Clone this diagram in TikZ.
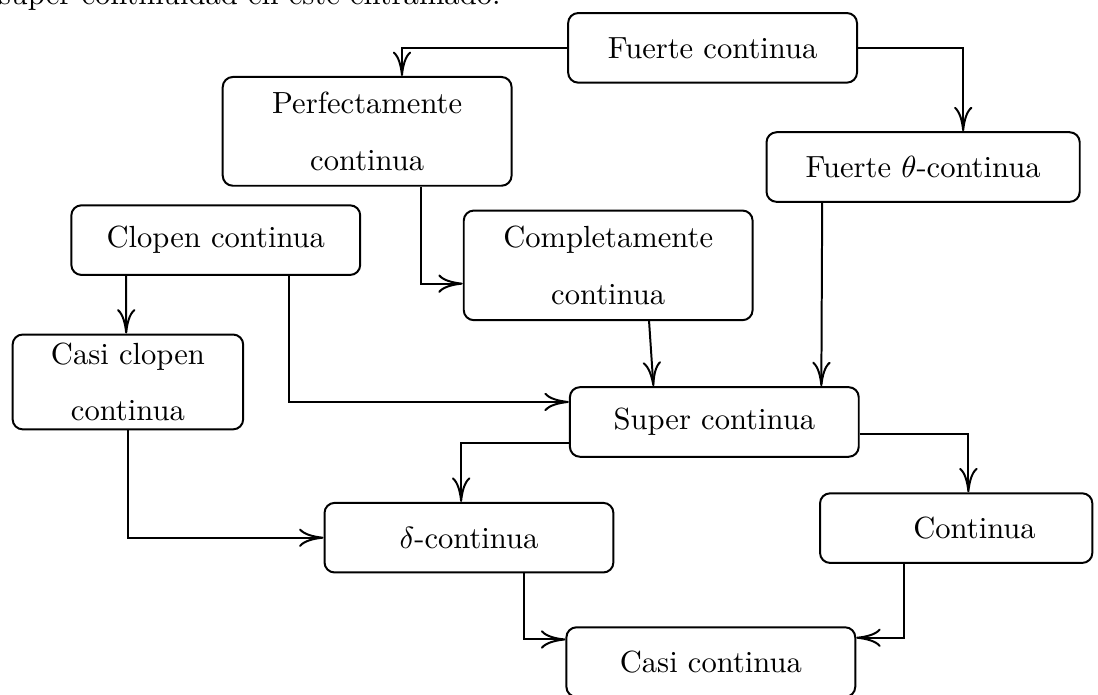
\documentclass[tikz,border=0pt]{standalone}
\usetikzlibrary{arrows.meta,calc}
\begin{document}
\begin{tikzpicture}[
    box/.style={rectangle, draw, rounded corners=3.3pt, line width=0.65pt, minimum width=3.32cm, minimum height=0.8cm, align=center, inner sep=0pt},
    tallbox/.style={box, minimum height=1.26cm},
    arrow/.style={-{To[length=8pt,width=6pt]}, line width=0.65pt}
]
\useasboundingbox (0,0) rectangle (12.62,-7.98);
\clip (0,0) rectangle (12.62,-7.98);

\node[anchor=base west, inner sep=0pt] (intro) at (-0.02,-0.05) {super continuidad en este entramado.};

\node[box] (fc) at (8.19,-0.55) {Fuerte continua};
\node[tallbox, minimum height=1.25cm] (pc) at (4.22,-1.51) {Perfectamente\\[6.6pt]continua};
\node[box, minimum width=3.6cm] (ftc) at (10.61,-1.92) {Fuerte $\theta$-continua};
\node[box] (cc) at (2.48,-2.76) {Clopen continua};
\node[tallbox] (comp) at (6.99,-3.05) {Completamente\\[6.6pt]continua};
\node[tallbox, minimum width=2.65cm, minimum height=1.09cm] (ccc) at (1.47,-4.39) {Casi clopen\\[6.6pt]continua};
\node[box] (sc) at (8.21,-4.85) {Super continua};
\node[box] (dc) at (5.39,-6.18) {$\delta$-continua};
\node[box, minimum width=3.13cm] (con) at (10.99,-6.07) {\hspace*{12pt}Continua};
\node[box] (casi) at (8.17,-7.61) {Casi continua};

\draw[arrow] (fc.west) -| ($(pc.north)+(0.40,0)$);
\draw[arrow] (fc.east) -| ($(ftc.north)+(0.46,0)$);
\draw[arrow] ($(pc.south)+(0.62,0)$) |- ($(comp.west)+(0,-0.21)$);
\draw[arrow] ($(ftc.south)+(-1.16,0)$) -- ($(sc.north)+(1.23,0)$);
\draw[arrow] ($(comp.south)+(0.47,0)$) -- ($(sc.north)+(-0.70,0)$);
\draw[arrow] ($(cc.south)+(-1.03,0)$) -- ($(ccc.north)+(-0.02,0)$);
\draw[arrow] ($(cc.south)+(0.84,0)$) |- ($(sc.west)+(0,0.23)$);
\draw[arrow] ($(sc.west)+(0,-0.24)$) -| ($(dc.north)+(-0.09,0)$);
\draw[arrow] ($(sc.east)+(0,-0.14)$) -| ($(con.north)+(0.14,0)$);
\draw[arrow] (ccc.south) |- (dc.west);
\draw[arrow] ($(dc.south)+(0.63,0)$) |- ($(casi.west)+(0,0.26)$);
\draw[arrow] ($(con.south)+(-0.60,0)$) |- ($(casi.east)+(0,0.28)$);

\end{tikzpicture}
\end{document}
